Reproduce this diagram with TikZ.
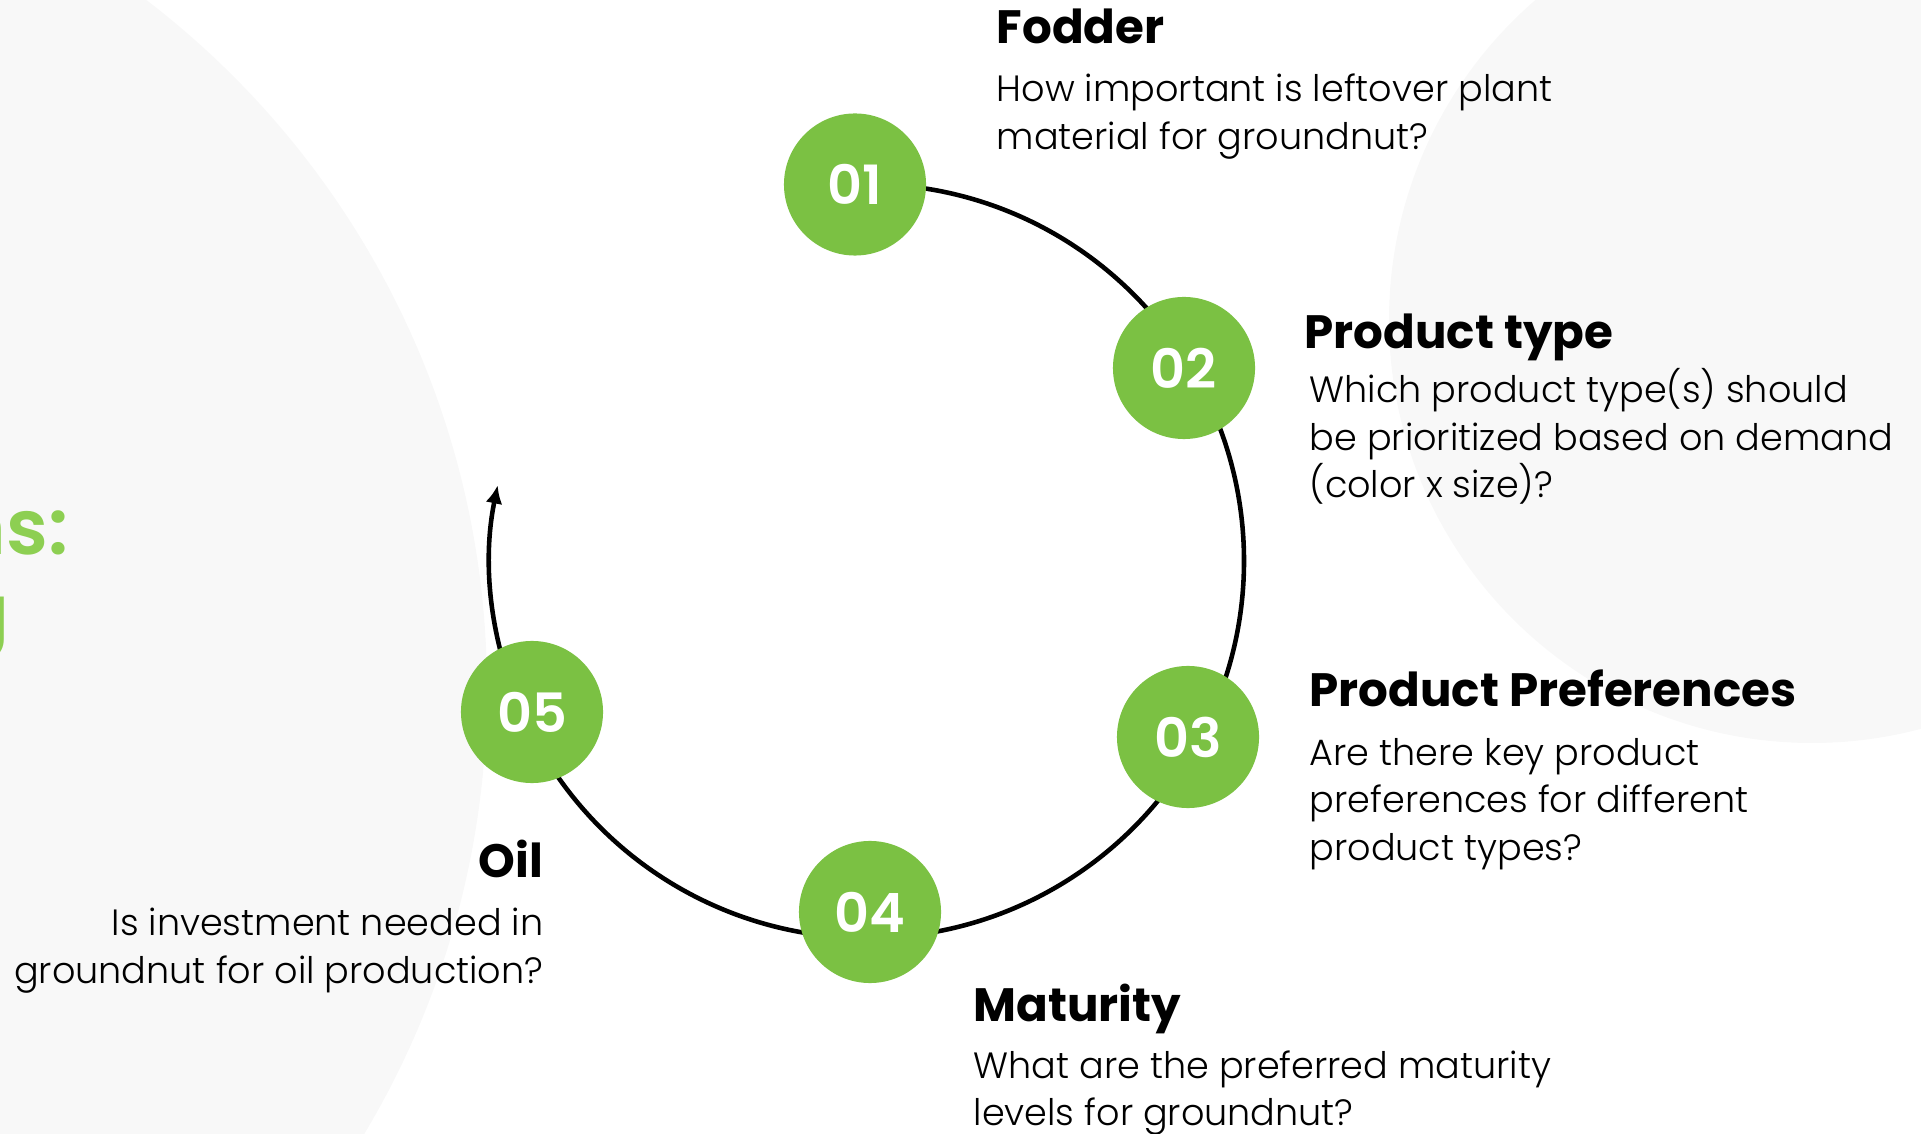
\documentclass[tikz,border=0pt]{standalone}
\usepackage{fontspec}
\setmainfont{Poppins}
\newfontfamily\bodyfont{Poppins Light}
\newfontfamily\numfont{Poppins SemiBold}
\usetikzlibrary{arrows.meta}
\definecolor{leaf}{HTML}{7BC143}
\definecolor{titlegreen}{HTML}{8DCF52}
\definecolor{backdrop}{HTML}{F8F8F8}

\begin{document}
\begin{tikzpicture}[x=0.01cm,y=-0.01cm,
  stepdot/.style={circle, fill=leaf, minimum size=1.42cm, inner sep=0pt,
    text=white, font=\numfont\fontsize{15.4}{15.4}\selectfont},
  heading/.style={anchor=base west, inner sep=0pt,
    font=\fontsize{13.3}{16}\selectfont\bfseries},
  bodyline/.style={anchor=base west, inner sep=0pt,
    font=\bodyfont\fontsize{10.4}{13.6}\selectfont},
  headingR/.style={heading, anchor=base east},
  bodylineR/.style={bodyline, anchor=base east},
  titlepart/.style={anchor=base east, inner sep=0pt, text=titlegreen,
    font=\numfont\fontsize{21.8}{24}\selectfont},
  ringline/.style={line width=1.3pt, -{Latex[length=5.2pt,width=4.8pt]}}]

\useasboundingbox (0,0) rectangle (1921,1134);

% soft background discs
\fill[backdrop] (-380,689) circle[radius=867];
\fill[backdrop] (1812,320) circle[radius=423];

% title fragments at the left edge
\node[titlepart] (t1) at (69,555) {ns:};
\node[titlepart] (t2) at (10,640) {g};

% cycle ring
\coordinate (hub) at (867,561);
\draw[ringline] ([shift={(-90:377)}]hub) arc[start angle=-90, end angle=191.6, radius=377];

% step markers
\node[stepdot] (s1) at (855,184.5) {01};
\node[stepdot] (s2) at (1184,368) {02};
\node[stepdot] (s3) at (1188,737) {03};
\node[stepdot] (s4) at (870,912) {04};
\node[stepdot] (s5) at (532,712) {05};

% 01 Fodder
\node[heading] (h1) at (996,44) {Fodder};
\node[bodyline] (b1a) at (996,102) {How important is leftover plant};
\node[bodyline] (b1b) at (996,150) {material for groundnut?};

% 02 Product type
\node[heading] (h2) at (1304,349) {Product type};
\node[bodyline] (b2a) at (1309,403) {Which product type(s) should};
\node[bodyline] (b2b) at (1309,451) {be prioritized based on demand};
\node[bodyline] (b2c) at (1309,498) {(color x size)?};

% 03 Product Preferences
\node[heading] (h3) at (1309,707) {Product Preferences};
\node[bodyline] (b3a) at (1309,765) {Are there key product};
\node[bodyline] (b3b) at (1309,813) {preferences for different};
\node[bodyline] (b3c) at (1309,860) {product types?};

% 04 Maturity
\node[heading] (h4) at (973,1021) {Maturity};
\node[bodyline] (b4a) at (973,1078) {What are the preferred maturity};
\node[bodyline] (b4b) at (973,1125) {levels for groundnut?};

% 05 Oil
\node[headingR] (h5) at (544,877) {Oil};
\node[bodylineR] (b5a) at (544,935) {Is investment needed in};
\node[bodylineR] (b5b) at (544,983) {groundnut for oil production?};

\end{tikzpicture}
\end{document}
